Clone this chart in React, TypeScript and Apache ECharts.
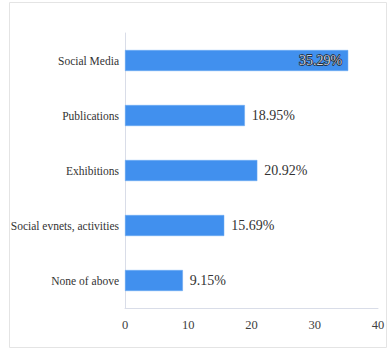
import React, { useEffect, useRef } from "react";
import * as echarts from "echarts";

const categories = ["None of above", "Social evnets, activities", "Exhibitions", "Publications", "Social Media"];
const values = [9.15, 15.69, 20.92, 18.95, 35.29];
const axisMax = 40;
const axisInterval = 10;

export default function App() {
  const ref = useRef<HTMLDivElement>(null);
  useEffect(() => {
    if (!ref.current) return;
    const chart = echarts.init(ref.current, null, { renderer: "svg" });
    const font = "'Liberation Serif', serif";
    chart.setOption({
      animation: false,
      textStyle: { fontFamily: font },
      grid: { left: 125, right: 11, top: 33, bottom: 41, containLabel: false },
      graphic: [
        {
          type: "rect",
          shape: { x: 9.5, y: 2.5, width: 377, height: 345 },
          style: { fill: "none", stroke: "#e4e4e4", lineWidth: 1 },
          silent: true,
        },
      ],
      xAxis: {
        type: "value",
        min: 0,
        max: axisMax,
        interval: axisInterval,
        axisLine: { show: true, lineStyle: { color: "#d9dde8" } },
        axisTick: { show: false },
        splitLine: { show: false },
        axisLabel: { color: "#404040", fontFamily: font, fontSize: 12.5, margin: 10 },
      },
      yAxis: {
        type: "category",
        data: categories,
        axisLine: { show: true, lineStyle: { color: "#d9dde8" } },
        axisTick: { show: false },
        axisLabel: { color: "#333", fontFamily: font, fontSize: 11.5, margin: 6 },
      },
      series: [
        {
          type: "bar",
          data: values.map((v, i) =>
            i === values.length - 1
              ? {
                  value: v,
                  label: {
                    position: "insideRight",
                    offset: [1, 0],
                    color: "#c8d2e0",
                    textBorderColor: "#1a1a1a",
                    textBorderWidth: 1.3,
                  },
                }
              : v
          ),
          barWidth: 21,
          itemStyle: { color: "#4190ee", borderColor: "#6aa8f2", borderWidth: 0.5 },
          label: {
            show: true,
            position: "right",
            distance: 7,
            formatter: (p: any) => p.value.toFixed(2) + "%",
            color: "#333",
            fontFamily: font,
            fontSize: 14,
          },
        },
      ],
    });
    return () => chart.dispose();
  }, []);
  return (
    <div
      ref={ref}
      style={{ position: "absolute", left: 0, top: 0, width: 389, height: 349, background: "#fff" }}
    />
  );
}
